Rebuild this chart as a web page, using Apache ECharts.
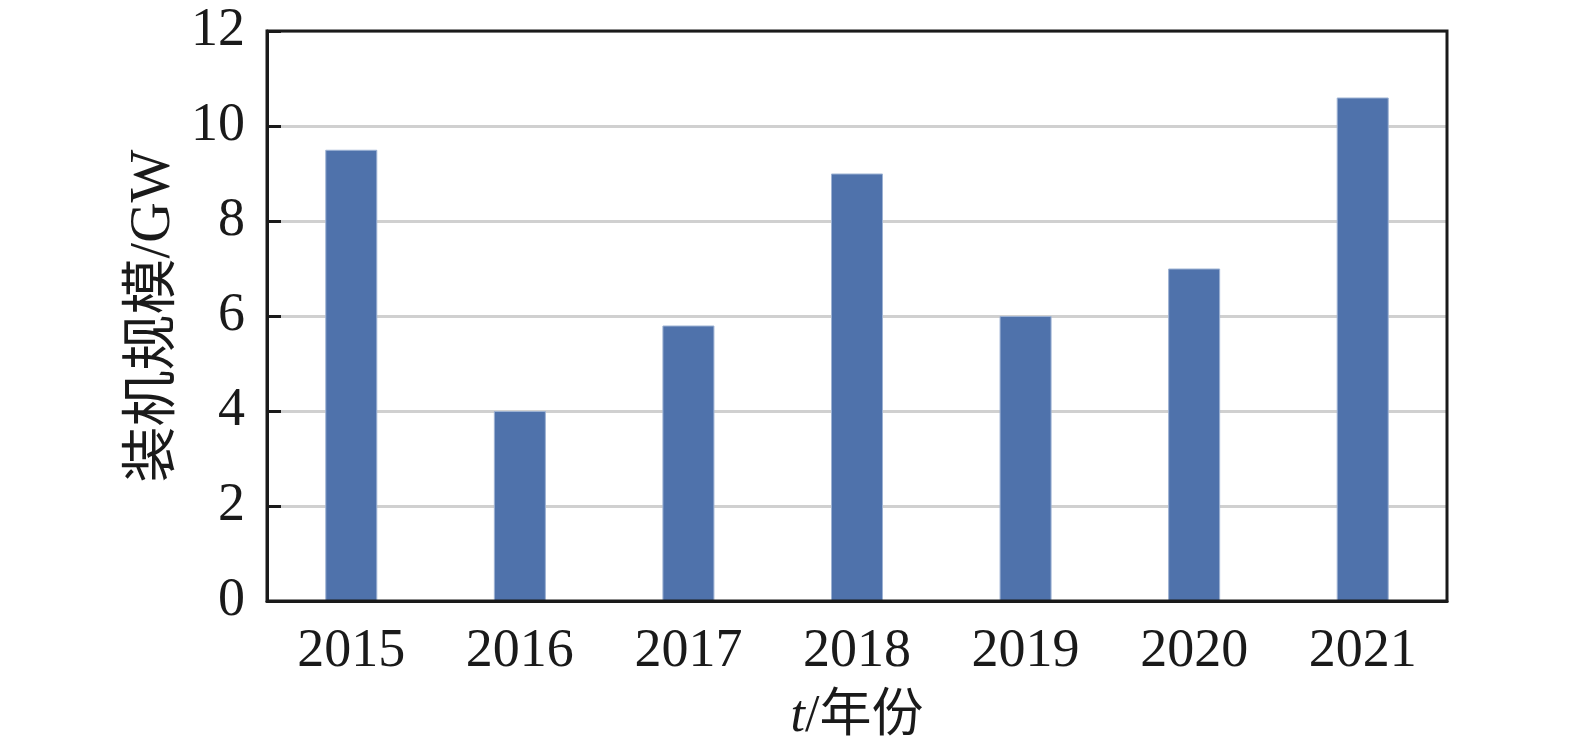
<!DOCTYPE html>
<html>
<head>
<meta charset="utf-8">
<script src="https://cdn.jsdelivr.net/npm/echarts@6/dist/echarts.min.js"></script>
<style>html,body{margin:0;padding:0;background:#fff}#c{width:1575px;height:748px}</style>
</head>
<body>
<div id="c"></div>
<script>
const years = ['2015','2016','2017','2018','2019','2020','2021'];
const capacity = [9.5, 4.0, 5.8, 9.0, 6.0, 7.0, 10.6];
const yName = '装机规模/GW';
const xName = '{i|t}/年份';

const serif = '"Liberation Serif", "Noto Sans CJK SC", serif';
const chart = echarts.init(document.getElementById('c'), null, {renderer: 'canvas'});
chart.setOption({
  animation: false,
  grid: {left: 267, right: 128, top: 31, bottom: 147, containLabel: false, outerBoundsMode: 'none'},
  xAxis: {
    type: 'category',
    data: years,
    name: xName,
    nameLocation: 'middle',
    nameGap: 90,
    nameTextStyle: {
      fontFamily: serif, fontSize: 52, color: '#1a1a1a',
      rich: {i: {fontStyle: 'italic', fontFamily: serif, fontSize: 52, color: '#1a1a1a'}}
    },
    axisLine: {lineStyle: {color: '#1a1a1a', width: 3}},
    axisTick: {show: false},
    axisLabel: {fontFamily: serif, fontSize: 54, color: '#1a1a1a', margin: 24}
  },
  yAxis: {
    type: 'value',
    min: 0, max: 12, interval: 2,
    name: yName,
    nameLocation: 'middle',
    nameMoveOverlap: false,
    nameGap: 85,
    nameTextStyle: {fontFamily: serif, fontSize: 56, color: '#1a1a1a'},
    axisLine: {show: true, lineStyle: {color: '#1a1a1a', width: 3}},
    axisTick: {show: true, inside: true, length: 14, lineStyle: {color: '#1a1a1a', width: 3}},
    axisLabel: {fontFamily: serif, fontSize: 54, color: '#1a1a1a', margin: 22},
    splitLine: {show: true, lineStyle: {color: '#d0d0d0', width: 3}}
  },
  series: [{
    type: 'bar',
    data: capacity,
    barWidth: 52,
    itemStyle: {color: '#4f72ab', borderColor: '#9db2d3', borderWidth: 1}
  }],
  graphic: [{
    type: 'rect',
    shape: {x: 267, y: 31, width: 1180, height: 570},
    style: {fill: 'none', stroke: '#1a1a1a', lineWidth: 3},
    silent: true, z: 10
  }]
});
</script>
</body>
</html>
